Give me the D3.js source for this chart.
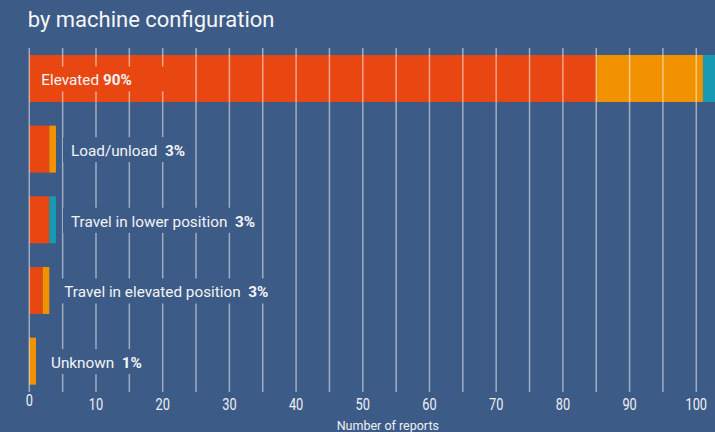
<!DOCTYPE html>
<html>
<head>
<meta charset="utf-8">
<script src="https://cdn.jsdelivr.net/npm/d3@7"></script>
<style>
  html, body { margin: 0; padding: 0; background: #3d5b87; }
  svg { display: block; }
</style>
</head>
<body>
<svg id="chart" width="715" height="432"></svg>
<script>
// Reports by machine configuration, split into three stacked groups
const categories = ["Elevated", "Load/unload", "Travel in lower position", "Travel in elevated position", "Unknown"];
const seriesOne   = [85, 3, 3, 2, 0];
const seriesTwo   = [16, 1, 0, 1, 1];
const seriesThree = [4, 0, 1, 0, 0];
const seriesKeys  = ["one", "two", "three"];
const seriesColors = ["#e84712", "#f29200", "#189bb2"];
const xTicks = [0, 10, 20, 30, 40, 50, 60, 70, 80, 90, 100];
const gridStep = 5;
const chartTitle = "by machine configuration";
const axisTitle = "Number of reports";

const W = 715, H = 432;
const svg = d3.select("#chart");

svg.append("rect").attr("width", W).attr("height", H).attr("fill", "#3d5b87");

const rows = categories.map((c, i) => ({
  name: c, one: seriesOne[i], two: seriesTwo[i], three: seriesThree[i]
}));
rows.forEach(r => r.total = r.one + r.two + r.three);
const grand = d3.sum(rows, r => r.total);

const x = d3.scaleLinear().domain([0, 107.5]).range([29.3, 746.3]);
const y = d3.scaleBand().domain(categories).range([31.3, 408.3]).padding(0.335);
const color = d3.scaleOrdinal().domain(seriesKeys).range(seriesColors);

const stacked = d3.stack().keys(seriesKeys)(rows);

// bars
svg.append("g").selectAll("g")
  .data(stacked).join("g")
  .attr("fill", d => color(d.key))
  .selectAll("rect")
  .data(d => d).join("rect")
  .attr("x", d => x(d[0]))
  .attr("y", d => y(d.data.name))
  .attr("width", d => x(d[1]) - x(d[0]))
  .attr("height", y.bandwidth());

// vertical grid lines, drawn over the bars
const gridValues = d3.range(0, 105 + 0.1, gridStep);
svg.append("g").selectAll("line")
  .data(gridValues).join("line")
  .attr("x1", d => x(d)).attr("x2", d => x(d))
  .attr("y1", 48).attr("y2", 392)
  .attr("stroke", "#ffffff")
  .attr("stroke-opacity", 0.5)
  .attr("stroke-width", 1.5);

// category labels with a backing patch that interrupts the grid
const labelFont = "Roboto, 'Liberation Sans', sans-serif";
const labels = svg.append("g");
rows.forEach((r, i) => {
  const inside = i === 0;
  const cy = y(r.name) + y.bandwidth() / 2;
  const tx = inside ? x(0) + 12 : x(r.total) + 15;
  const pct = Math.round(r.total / grand * 100) + "%";
  const g = labels.append("g");
  const bg = g.append("rect");
  const t = g.append("text")
    .attr("x", tx).attr("y", cy + 7)
    .attr("font-family", labelFont)
    .attr("font-size", 15.3)
    .attr("fill", "#f3f4f6")
    .attr("xml:space", "preserve");
  t.append("tspan").text(inside ? r.name + " " : r.name + "  ");
  t.append("tspan").attr("font-weight", "bold").text(pct);
  const w = t.node().getComputedTextLength();
  bg.attr("x", tx - (inside ? 6 : 8))
    .attr("y", cy - 12)
    .attr("width", w + (inside ? 41 : 11))
    .attr("height", 25)
    .attr("fill", inside ? color("one") : "#3d5b87");
});

// x axis tick labels, set in a condensed width
svg.append("g").selectAll("text")
  .data(xTicks).join("text")
  .attr("transform", d => `translate(${x(d)},${d === 0 ? 406 : 410}) scale(0.8,1)`)
  .attr("text-anchor", "middle")
  .attr("font-family", "Roboto, 'Liberation Sans', sans-serif")
  .attr("font-size", 16)
  .attr("fill", "#eef0f4")
  .text(d => d);

// axis title
svg.append("text")
  .attr("x", (x.range()[0] + x.range()[1]) / 2)
  .attr("y", 430)
  .attr("text-anchor", "middle")
  .attr("font-family", "Roboto, 'Liberation Sans', sans-serif")
  .attr("font-size", 12.5)
  .attr("fill", "#eef0f4")
  .text(axisTitle);

// chart title
svg.append("text")
  .attr("x", 27.7).attr("y", 27)
  .attr("font-family", "Roboto, 'Liberation Sans', sans-serif")
  .attr("font-size", 22)
  .attr("fill", "#f5f6f8")
  .text(chartTitle);
</script>
</body>
</html>
